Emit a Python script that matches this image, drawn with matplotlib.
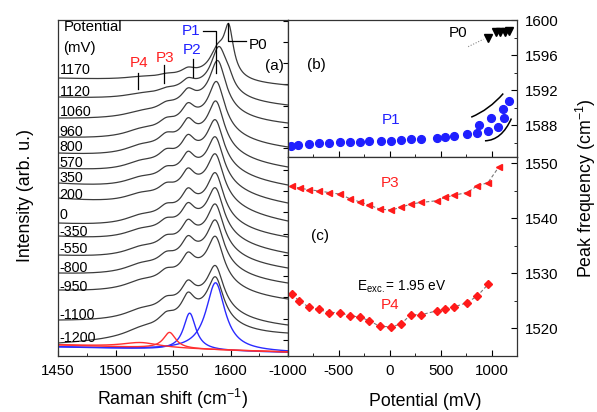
import numpy as np
import matplotlib
matplotlib.use("Agg")
import matplotlib.pyplot as plt
from matplotlib.ticker import MultipleLocator
from matplotlib.path import Path
from matplotlib.patches import PathPatch

plt.rcParams['font.family'] = ['Liberation Sans', 'DejaVu Sans']
plt.rcParams['mathtext.fontset'] = 'custom'
plt.rcParams['mathtext.rm'] = 'Liberation Sans'
plt.rcParams['mathtext.it'] = 'Liberation Sans:italic'
plt.rcParams['mathtext.default'] = 'regular'
plt.rcParams['axes.unicode_minus'] = False

# ---- (a) spectra: level at both ends and peak parameters ----
potentials = [1170, 1120, 1060, 960, 800, 570, 350, 200, 0, -350, -550, -800, -950, -1100, -1200]
left_level = [278, 259, 238, 219, 203, 188, 173, 158, 133, 120, 101, 83, 66, 36, 13]
right_level = [271, 251, 233, 209, 189, 171, 153, 135, 119, 103, 88, 73, 57, 31, 23]
label_level = [286, 264, 244, 224, 209, 193, 178, 161, 141, 124, 107, 88, 69, 41, 18]
bg_height = [8, 15, 20, 24, 25, 25, 25, 25, 25, 25, 25, 25, 25, 25, 24]
p0_height = [45, 8, 0, 0, 0, 0, 0, 0, 0, 0, 0, 0, 0, 0, 0]
p1_pos = [1589, 1590, 1589, 1588, 1587.5, 1587, 1587, 1587, 1587, 1587, 1587, 1587, 1587, 1587, 1587]
p1_height = [25, 45, 48, 46, 44, 42, 42, 42, 42, 42, 42, 42, 42, 40, 42]
p2_height = [5, 7, 11, 14, 16, 16, 16, 16, 16, 16, 16, 16, 16, 16, 19]
p3_height = [2, 3, 5, 7, 9, 9, 8, 8, 8, 8, 8, 8, 8, 8, 9]
p4_height = [2, 3, 4, 6, 7, 7, 7, 7, 7, 7, 7, 7, 7, 7, 6]

# peak centres / widths (cm-1)
bg_c, bg_w = 1570, 70
p0_c, p0_w = 1598.5, 10
p1_w = 17
p2_c, p2_w = 1563, 13
p3_c, p3_w = 1544, 16
p4_c, p4_w = 1522, 35

# fitted components of the -1200 mV spectrum
fit_center = [1587, 1564.5, 1547, 1522]
fit_height = [68, 37, 16, 5]
fit_width = [20, 13, 13, 40]
fit_color = ['#2b2bff', '#2b2bff', '#ff3030', '#ff3030']
fit_bg_blue = [9, 3.5]
fit_bg_red = [11, 4]

# ---- (b) peak positions vs potential ----
p1_pot = [-970, -900, -795, -700, -600, -490, -395, -295, -200, -90, 10, 110, 205, 310,
          460, 540, 630, 760, 860, 875, 965, 995, 1065, 1110, 1120, 1175]
p1_freq = [1585.6, 1585.7, 1585.8, 1585.9, 1586.0, 1586.1, 1586.1, 1586.1, 1586.2, 1586.2,
           1586.2, 1586.25, 1586.35, 1586.45, 1586.55, 1586.6, 1586.8, 1586.95, 1587.1,
           1588.0, 1587.35, 1588.75, 1587.75, 1589.85, 1588.75, 1590.7]
p0_pot = [965, 1045, 1080, 1130, 1175]
p0_freq = [1598.0, 1598.6, 1598.6, 1598.65, 1598.7]

# ---- (c) ----
p3_pot = [-965, -885, -795, -700, -600, -490, -395, -295, -200, -100, 10, 110, 205, 310,
          460, 540, 630, 760, 860, 965, 1070]
p3_freq = [1545.8, 1545.5, 1545.2, 1545.0, 1544.7, 1544.4, 1543.6, 1543.0, 1542.4, 1541.7,
           1541.5, 1542.0, 1542.6, 1542.9, 1543.2, 1543.8, 1544.2, 1544.7, 1545.9, 1546.5, 1549.3]
p4_pot = [-960, -890, -795, -700, -600, -490, -395, -295, -200, -100, 10, 110, 205, 310,
          460, 540, 630, 760, 860, 965]
p4_freq = [1526.2, 1525.0, 1523.9, 1523.5, 1522.9, 1522.9, 1522.3, 1522.1, 1521.4, 1520.4,
           1520.3, 1520.8, 1522.5, 1522.5, 1523.2, 1523.5, 1523.9, 1524.7, 1525.9, 1528.0]


def lor(x, c, fwhm):
    return 1.0 / (1.0 + ((x - c) / (fwhm / 2.0)) ** 2)


W, H = 597, 412
fig = plt.figure(figsize=(W / 100, H / 100), dpi=100)


def box(l, t, r, b):
    return [l / W, 1 - b / H, (r - l) / W, (b - t) / H]


ax_a = fig.add_axes(box(58, 20, 288, 356))
ax_b = fig.add_axes(box(288, 20, 517, 157))
ax_c = fig.add_axes(box(288, 157, 517, 356))

line_col = '#3c3c3c'
tick_fs = 10.8

# ---------------- panel (a) ----------------
x = np.linspace(1450, 1650, 801)
for i in range(len(potentials)):
    peaks = (bg_height[i] * lor(x, bg_c, bg_w) + p0_height[i] * lor(x, p0_c, p0_w)
             + p1_height[i] * lor(x, p1_pos[i], p1_w) + p2_height[i] * lor(x, p2_c, p2_w)
             + p3_height[i] * lor(x, p3_c, p3_w) + p4_height[i] * lor(x, p4_c, p4_w))
    b0 = left_level[i] - peaks[0]
    b1 = right_level[i] - peaks[-1]
    base = b0 + (b1 - b0) * (x - 1450) / 200.0
    ax_a.plot(x, base + peaks, color=line_col, lw=0.9)
    ax_a.text(1451.5, label_level[i], str(potentials[i]), fontsize=10.3, ha='left', va='center')

for c, h, w, col in zip(fit_center, fit_height, fit_width, fit_color):
    bgl = fit_bg_blue if col == '#2b2bff' else fit_bg_red
    base = bgl[0] + (bgl[1] - bgl[0]) * (x - 1450) / 200.0
    ax_a.plot(x, base + h * lor(x, c, w), color=col, lw=1.0)

ax_a.set_xlim(1450, 1650)
ax_a.set_ylim(0, 336)
ax_a.xaxis.set_minor_locator(MultipleLocator(25))
ax_a.set_xticks([1450, 1500, 1550, 1600, 1650])
ax_a.set_xticklabels(['1450', '1500', '1550', '1600', ''])
ax_a.yaxis.tick_right()
ax_a.set_yticks(np.arange(16, 336, 21.3))
ax_a.set_yticklabels([])
ax_a.tick_params(axis='both', which='both', direction='in', labelsize=tick_fs)
ax_a.tick_params(axis='x', which='major', length=4, pad=5.5)
ax_a.tick_params(axis='x', which='minor', length=2.5)
ax_a.tick_params(axis='y', length=3.5)

ax_a.text(1455, 329, 'Potential', fontsize=10.8, ha='left', va='center')
ax_a.text(1454.5, 308, '(mV)', fontsize=10.8, ha='left', va='center')
ax_a.text(1637.8, 290, '(a)', fontsize=11, ha='center', va='center')

# peak markers
ax_a.plot([1519.3, 1519.3], [267, 283], color='k', lw=0.9)
ax_a.plot([1542, 1542], [273, 291], color='k', lw=0.9)
ax_a.plot([1567.3, 1567.3], [279, 297], color='k', lw=0.9)
ax_a.plot([1575.8, 1587.1, 1587.1], [325, 325, 283], color='k', lw=0.9)
ax_a.plot([1597.6, 1597.6, 1613.3], [333, 315, 315], color='k', lw=0.9)
ax_a.text(1520.7, 293, 'P4', color='#ff2020', fontsize=11, ha='center', va='center')
ax_a.text(1543.4, 298, 'P3', color='#ff2020', fontsize=11, ha='center', va='center')
ax_a.text(1567, 306, 'P2', color='#2020ff', fontsize=11, ha='center', va='center')
ax_a.text(1566, 325, 'P1', color='#2020ff', fontsize=11, ha='center', va='center')
ax_a.text(1624, 311, 'P0', color='k', fontsize=11, ha='center', va='center')

# ---------------- panel (b) ----------------
ax_b.plot(p1_pot, p1_freq, 'o', color='#1f1fff', ms=5.6, mec='#1f1fff')
ax_b.plot(p0_pot, p0_freq, 'v', color='k', ms=5.5)
ax_b.plot([770, 920], [1596.95, 1597.8], color='#888888', lw=0.8, ls=(0, (1, 1.5)))


def bez(p_start, p_mid, p_end):
    ctrl = (2 * p_mid[0] - 0.5 * (p_start[0] + p_end[0]), 2 * p_mid[1] - 0.5 * (p_start[1] + p_end[1]))
    return PathPatch(Path([p_start, ctrl, p_end], [Path.MOVETO, Path.CURVE3, Path.CURVE3]),
                     fc='none', ec='k', lw=1.1)


ax_b.add_patch(bez((800, 1588.9), (967, 1590.0), (1115, 1591.6)))
ax_b.add_patch(bez((935, 1586.2), (1082, 1586.86), (1195, 1588.75)))

ax_b.text(-721, 1594.9, '(b)', fontsize=11, ha='center', va='center')
ax_b.text(16, 1588.6, 'P1', color='#2020ff', fontsize=11, ha='center', va='center')
ax_b.text(672, 1598.5, 'P0', color='k', fontsize=11, ha='center', va='center')

ax_b.set_xlim(-1000, 1250)
ax_b.set_ylim(1584.35, 1600)
ax_b.set_yticks([1588, 1592, 1596, 1600])
ax_b.yaxis.set_minor_locator(MultipleLocator(2))
ax_b.xaxis.set_major_locator(MultipleLocator(500))
ax_b.xaxis.set_minor_locator(MultipleLocator(250))
ax_b.set_xticklabels([])

# ---------------- panel (c) ----------------
ax_c.plot(p3_pot, p3_freq, color='#777777', lw=0.8, ls=(0, (3, 2)))
ax_c.plot(p3_pot, p3_freq, '<', color='#ff1a1a', ms=4.3, ls='none')
ax_c.plot(p4_pot, p4_freq, color='#777777', lw=0.8, ls=(0, (3, 2)))
ax_c.plot(p4_pot, p4_freq, 'D', color='#ff1a1a', ms=3.6, ls='none')

ax_c.text(-689, 1536.8, '(c)', fontsize=11, ha='center', va='center')
ax_c.text(115, 1527.6, r'E$_{\mathrm{exc.}}$= 1.95 eV', fontsize=9.8, ha='center', va='center')
ax_c.text(0, 1546.4, 'P3', color='#ff2020', fontsize=11, ha='center', va='center')
ax_c.text(0, 1524.2, 'P4', color='#ff2020', fontsize=11, ha='center', va='center')

ax_c.set_xlim(-1000, 1250)
ax_c.set_ylim(1515, 1551.15)
ax_c.set_yticks([1520, 1530, 1540, 1550])
ax_c.yaxis.set_minor_locator(MultipleLocator(5))
ax_c.set_xticks([-1000, -500, 0, 500, 1000])
ax_c.xaxis.set_minor_locator(MultipleLocator(250))

for ax in (ax_b, ax_c):
    ax.yaxis.tick_right()
    ax.tick_params(axis='both', which='both', direction='in', labelsize=tick_fs)
    ax.tick_params(axis='both', which='major', length=4, pad=5.5)
    ax.tick_params(axis='both', which='minor', length=2.5)

for ax in (ax_a, ax_b, ax_c):
    for s in ax.spines.values():
        s.set_linewidth(0.9)
        s.set_color('#333333')

fig.text(26 / W, 1 - 195 / H, 'Intensity (arb. u.)', rotation=90, fontsize=12.8, ha='center', va='center')
fig.text(172 / W, 1 - 399 / H, 'Raman shift (cm$^{-1}$)', fontsize=12.8, ha='center', va='center')
fig.text(425 / W, 1 - 401 / H, 'Potential (mV)', fontsize=12.8, ha='center', va='center')
fig.text(586 / W, 1 - 188 / H, 'Peak frequency (cm$^{-1}$)', rotation=90, fontsize=12.8, ha='center', va='center')

fig.savefig('out.png', dpi=100)
